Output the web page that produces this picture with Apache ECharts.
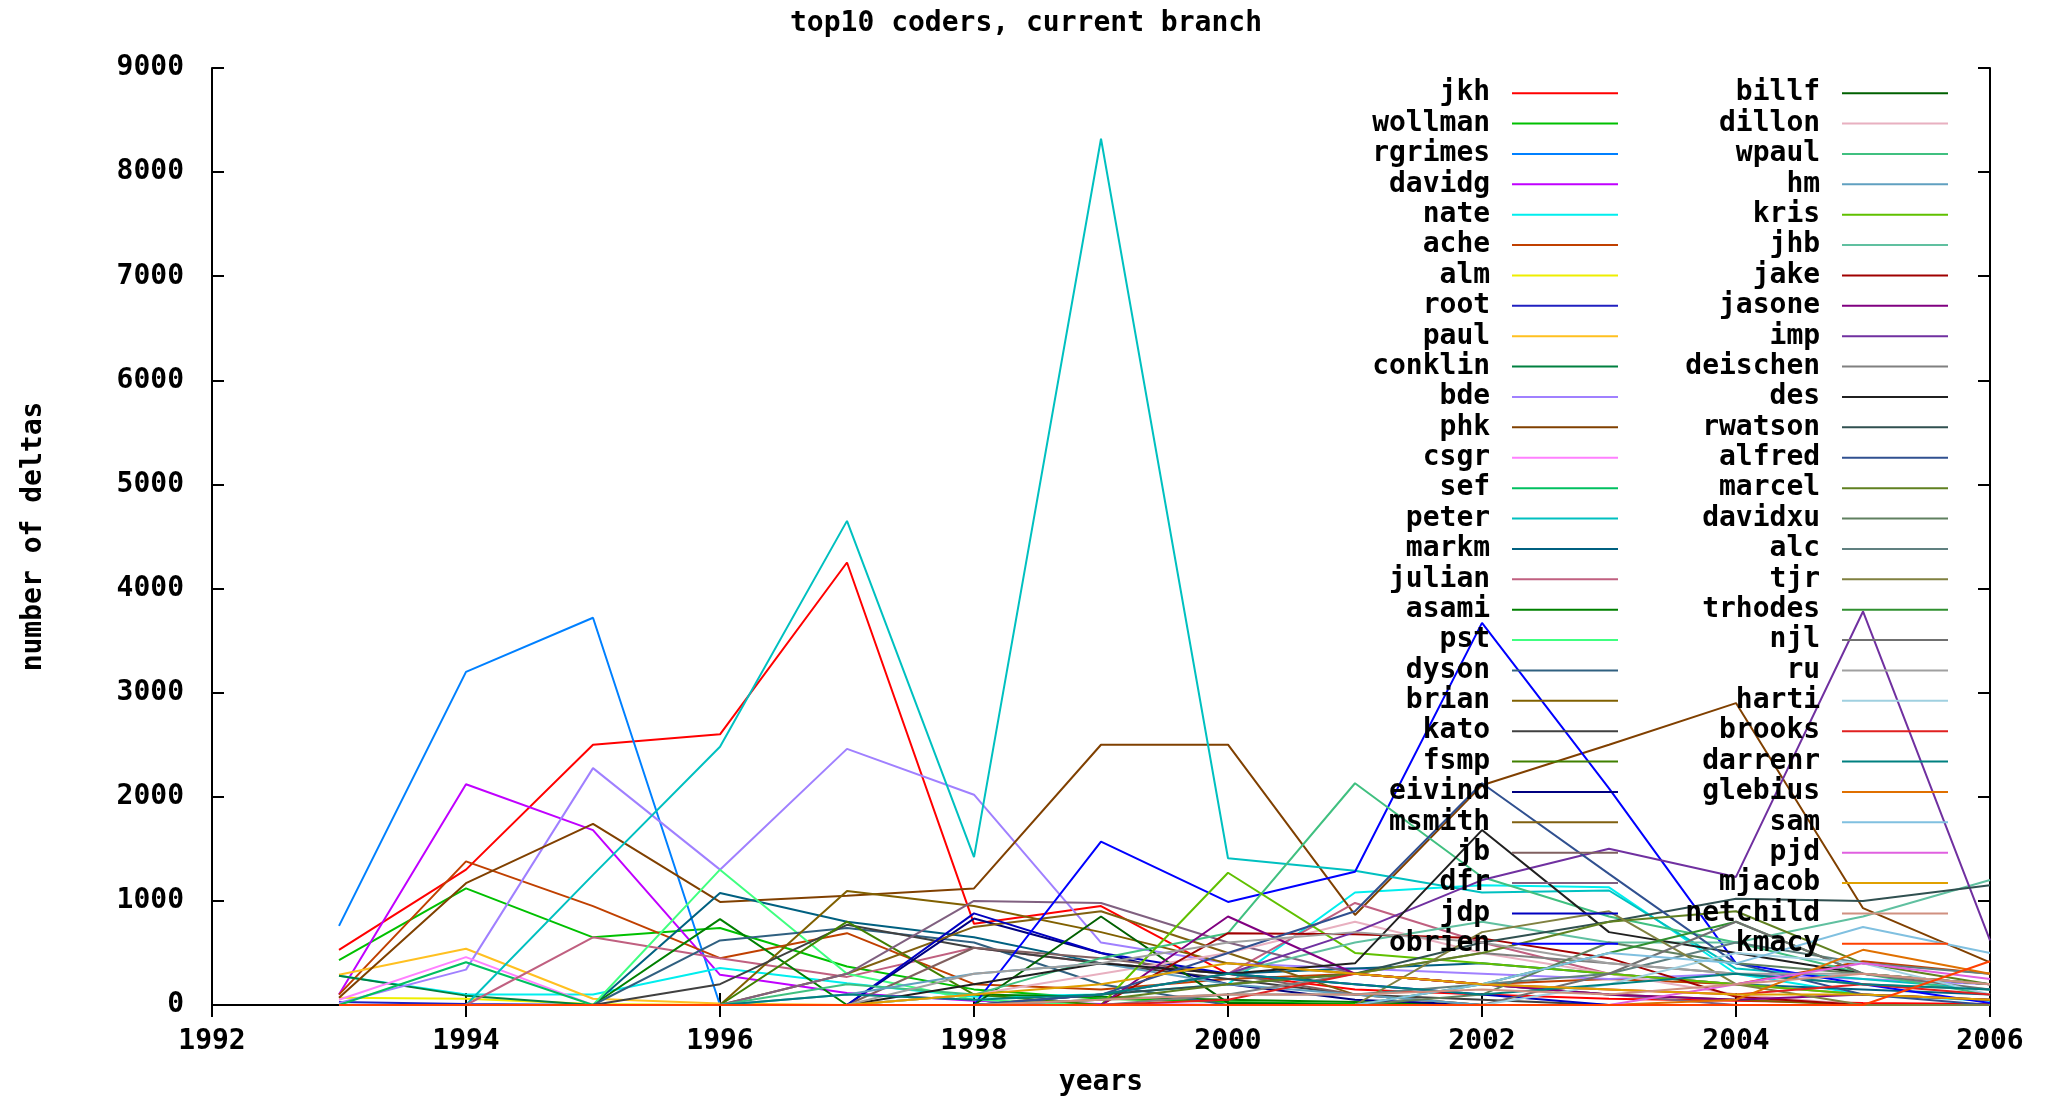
<!DOCTYPE html>
<html>
<head>
<meta charset="utf-8">
<script src="https://cdn.jsdelivr.net/npm/echarts@6/dist/echarts.min.js"></script>
<style>
html,body{margin:0;padding:0;background:#ffffff;}
#chart{width:2052px;height:1097px;}
</style>
</head>
<body>
<div id="chart"></div>
<script>
// ---- data (one value per year 1993..2006) ----
const years = [1993,1994,1995,1996,1997,1998,1999,2000,2001,2002,2003,2004,2005,2006];
const xTicks = [1992,1994,1996,1998,2000,2002,2004,2006];
const yTicks = [0,1000,2000,3000,4000,5000,6000,7000,8000,9000];

const jkh      = [530,1300,2500,2600,4250,780,950,300,150,100,60,40,20,10];
const wollman  = [430,1120,650,740,370,150,60,30,10,0,0,0,0,0];
const rgrimes  = [760,3200,3720,0,0,0,0,0,0,0,0,0,0,0];
const davidg   = [100,2120,1680,290,115,40,10,0,0,0,0,0,0,0];
const nate     = [280,100,100,355,210,80,100,200,1080,1150,1130,300,100,40];
const ache     = [100,1380,950,450,690,200,150,250,300,200,250,200,420,300];
const alm      = [70,60,10,0,0,0,0,0,0,0,0,0,0,0];
const root     = [30,10,0,0,0,0,0,0,0,0,0,0,0,0];
const paul     = [290,540,60,15,0,0,0,0,0,0,0,0,0,0];
const conklin  = [280,90,0,0,0,0,0,0,0,0,0,0,0,0];
const bde      = [20,340,2275,1300,2460,2020,600,400,350,300,250,300,250,200];
const phk      = [70,1170,1740,990,1050,1120,2500,2500,865,2110,2500,2900,930,410];
const csgr     = [50,460,0,0,0,0,0,0,0,0,0,0,0,0];
const sef      = [0,410,0,0,0,0,0,0,0,0,0,0,0,0];
const peter    = [0,0,1250,2480,4650,1420,8320,1410,1290,1080,1100,350,250,150];
const markm    = [0,0,0,1075,800,650,400,300,350,400,300,200,150,100];
const julian   = [0,0,650,450,270,550,400,300,980,600,300,200,100,50];
const asami    = [0,0,0,825,0,100,80,50,30,0,0,0,0,0];
const pst      = [0,0,0,1300,300,50,0,0,0,0,0,0,0,0];
const dyson    = [0,0,0,620,740,600,200,0,0,0,0,0,0,0];
const brian    = [0,0,0,0,1095,950,700,400,300,200,100,50,0,0];
const kato     = [0,0,0,200,770,550,400,250,100,50,0,0,0,0];
const fsmp     = [0,0,0,0,800,100,0,0,0,0,0,0,0,0];
const eivind   = [0,0,0,0,0,830,500,200,50,0,0,0,0,0];
const msmith   = [0,0,0,0,300,750,900,500,100,0,0,0,0,0];
const jb       = [0,0,0,0,0,550,450,300,100,0,0,0,0,0];
const dfr      = [0,0,0,0,300,1000,980,600,300,200,100,0,0,0];
const jdp      = [0,0,0,0,0,880,500,300,200,100,0,0,0,0];
const obrien   = [0,0,0,0,0,0,1570,990,1280,3670,2080,400,200,20];
const billf    = [0,0,0,0,0,0,850,20,0,0,0,0,0,0];
const dillon   = [0,0,0,0,0,100,300,500,800,500,300,100,0,0];
const wpaul    = [0,0,0,0,200,100,450,690,2130,1230,850,600,300,100];
const hm       = [0,0,0,0,100,300,400,200,100,0,0,0,0,0];
const kris     = [0,0,0,0,0,0,0,1270,500,400,300,200,100,50];
const jhb      = [0,0,0,0,0,0,100,300,600,800,600,600,850,1200];
const jake     = [0,0,0,0,0,0,0,690,680,640,450,80,0,0];
const jasone   = [0,0,0,0,0,0,0,850,300,200,100,50,100,50];
const imp      = [0,0,0,0,0,0,100,300,700,1200,1500,1230,3780,620];
const deischen = [0,0,0,0,0,0,0,100,300,500,400,300,200,150];
const des      = [0,0,0,0,0,200,400,300,400,1680,700,500,300,200];
const rwatson  = [0,0,0,0,0,0,100,200,300,600,800,1020,1000,1150];
const alfred   = [0,0,0,0,0,0,100,500,900,2130,1260,400,100,0];
const marcel   = [0,0,0,0,0,0,50,200,300,500,800,900,400,200];
const davidxu  = [0,0,0,0,0,0,0,0,0,100,600,400,300,200];
const alc      = [0,0,0,0,0,0,50,100,100,200,300,600,400,300];
const tjr      = [0,0,0,0,0,0,0,0,0,700,900,200,0,0];
const trhodes  = [0,0,0,0,0,0,0,0,0,200,500,800,300,200];
const njl      = [0,0,0,0,0,0,0,0,0,0,300,800,300,150];
const ru       = [0,0,0,0,0,300,400,600,700,600,400,300,300,200];
const harti    = [0,0,0,0,0,0,0,0,0,0,200,500,400,100];
const brooks   = [0,0,0,0,0,0,0,50,300,200,150,100,200,100];
const darrenr  = [0,0,0,0,100,50,100,300,200,100,200,300,200,150];
const glebius  = [0,0,0,0,0,0,0,0,0,0,0,50,530,300];
const sam      = [0,0,0,0,0,0,0,0,0,200,500,400,750,500];
const pjd      = [0,0,0,0,0,0,0,0,0,0,0,200,400,250];
const mjacob   = [0,0,0,0,0,100,200,400,300,200,150,100,100,50];
const netchild = [0,0,0,0,0,0,50,100,100,150,100,200,300,200];
const kmacy    = [0,0,0,0,0,0,0,0,0,0,0,0,0,420];

const names = ['jkh','wollman','rgrimes','davidg','nate','ache','alm','root','paul','conklin',
  'bde','phk','csgr','sef','peter','markm','julian','asami','pst','dyson','brian','kato','fsmp',
  'eivind','msmith','jb','dfr','jdp','obrien',
  'billf','dillon','wpaul','hm','kris','jhb','jake','jasone','imp','deischen','des','rwatson',
  'alfred','marcel','davidxu','alc','tjr','trhodes','njl','ru','harti','brooks','darrenr',
  'glebius','sam','pjd','mjacob','netchild','kmacy'];
const values = [jkh,wollman,rgrimes,davidg,nate,ache,alm,root,paul,conklin,
  bde,phk,csgr,sef,peter,markm,julian,asami,pst,dyson,brian,kato,fsmp,
  eivind,msmith,jb,dfr,jdp,obrien,
  billf,dillon,wpaul,hm,kris,jhb,jake,jasone,imp,deischen,des,rwatson,
  alfred,marcel,davidxu,alc,tjr,trhodes,njl,ru,harti,brooks,darrenr,
  glebius,sam,pjd,mjacob,netchild,kmacy];
const colors = ['#ff0000','#00c000','#0080ff','#c000ff','#00eeee','#c04000','#eeee00','#2020c0','#ffc020','#008040',
  '#a080ff','#804000','#ff80ff','#00c060','#00c0c0','#006080','#c06080','#008000','#40ff80','#306080','#806000','#404040','#408000',
  '#000080','#806010','#806060','#806080','#0000c0','#0000ff',
  '#006000','#e8b0c0','#40c080','#60a0c0','#60c000','#60c0a0','#a00000','#800080','#7030a0','#808080','#202020','#305050',
  '#305090','#608020','#608060','#608080','#808040','#309030','#707070','#a0a0a0','#a0d0e0','#e02020','#008080',
  '#e07000','#80c0e0','#e060e0','#e0a000','#d09080','#ff4000'];

// ---- chart ----
const FONT = 'DejaVu Sans Mono';
const txt = {fontFamily: FONT, fontWeight: 'bold', fontSize: 28, color: '#000'};
const axisLineStyle = {color: '#000', width: 2};

const series = names.map((n, i) => ({
  name: n,
  type: 'line',
  xAxisIndex: 0,
  yAxisIndex: 0,
  data: years.map((y, k) => [y, values[i][k]]),
  showSymbol: false,
  symbol: 'none',
  color: colors[i],
  lineStyle: {width: 2, color: colors[i]},
  itemStyle: {color: colors[i]},
  emphasis: {disabled: true},
  animation: false
}));

const legendCommon = {
  orient: 'vertical',
  align: 'right',
  icon: 'rect',
  itemWidth: 106,
  itemHeight: 2,
  itemGap: 0,
  padding: 0,
  top: 78,
  selectedMode: false,
  formatter: n => n + ' ',
  textStyle: Object.assign({}, txt, {lineHeight: 30.38})
};

const chart = echarts.init(document.getElementById('chart'), null, {renderer: 'canvas'});
chart.setOption({
  animation: false,
  backgroundColor: '#ffffff',
  title: {
    text: 'top10 coders, current branch',
    left: 'center',
    top: 10,
    padding: 0,
    textStyle: txt
  },
  legend: [
    Object.assign({}, legendCommon, {right: 434, data: names.slice(0, 29)}),
    Object.assign({}, legendCommon, {right: 104, data: names.slice(29)})
  ],
  grid: {left: 212, right: 62, top: 68, bottom: 92, containLabel: false, outerBoundsMode: 'none'},
  xAxis: [
    {
      type: 'value', position: 'bottom', min: xTicks[0], max: xTicks[xTicks.length - 1], interval: 2,
      name: 'years', nameLocation: 'middle', nameGap: 64, nameTextStyle: txt,
      axisLine: {show: true, lineStyle: axisLineStyle},
      axisTick: {show: true, inside: true, length: 12, lineStyle: axisLineStyle},
      axisLabel: Object.assign({margin: 23, formatter: v => String(v)}, txt),
      splitLine: {show: false}
    },
    {
      type: 'value', position: 'top', min: xTicks[0], max: xTicks[xTicks.length - 1], interval: 2,
      axisLine: {show: true, lineStyle: axisLineStyle},
      axisTick: {show: true, inside: true, length: 12, lineStyle: axisLineStyle},
      axisLabel: {show: false},
      splitLine: {show: false}
    }
  ],
  yAxis: [
    {
      type: 'value', position: 'left', min: yTicks[0], max: yTicks[yTicks.length - 1], interval: 1000,
      name: 'number of deltas', nameLocation: 'middle', nameGap: 164, nameTextStyle: txt,
      axisLine: {show: true, lineStyle: axisLineStyle},
      axisTick: {show: true, inside: true, length: 12, lineStyle: axisLineStyle},
      axisLabel: Object.assign({margin: 28, formatter: v => String(v)}, txt),
      splitLine: {show: false}
    },
    {
      type: 'value', position: 'right', min: yTicks[0], max: yTicks[yTicks.length - 1], interval: 1000,
      axisLine: {show: true, lineStyle: axisLineStyle},
      axisTick: {show: true, inside: true, length: 12, lineStyle: axisLineStyle},
      axisLabel: {show: false},
      splitLine: {show: false}
    }
  ],
  series: series
});
</script>
</body>
</html>
